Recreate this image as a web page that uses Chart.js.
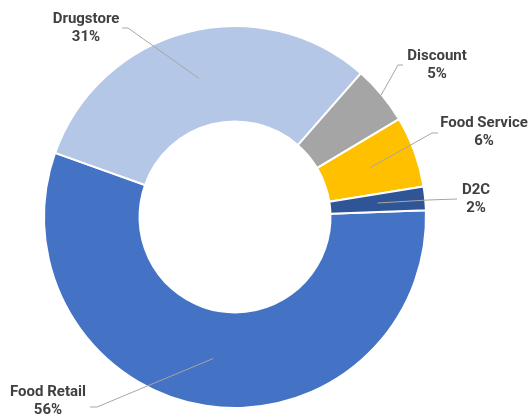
<!DOCTYPE html>
<html>
<head>
<meta charset="utf-8">
<title>Sales by channel</title>
<script src="https://cdn.jsdelivr.net/npm/chart.js@4"></script>
<style>
  html, body { margin: 0; padding: 0; background: #fff; }
  #wrap { width: 530px; height: 417px; }
</style>
</head>
<body>
<div id="wrap">
  <canvas id="myChart" width="530" height="417"></canvas>
</div>
<script>
// channel share, in percent
var channels = ["Food Retail", "Drugstore", "Discount", "Food Service", "D2C"];
var shares = [56, 31, 5, 6, 2];
var colors = ["#4472C4", "#B4C7E7", "#A5A5A5", "#FFC000", "#2F5597"];

// where each callout sits: text centre, elbow of the leader line,
// and how far out along the ring the line ends (0 = hole, 1 = rim)
var callouts = [
  { x: 48,  y: 392, elbow: [90, 407],  knee: [97, 407],  reach: 0.5 },
  { x: 86,  y: 19,  elbow: [122, 28],  knee: [128, 28],  reach: 0.5 },
  { x: 437, y: 56,  elbow: [403, 65],  knee: [398, 65],  reach: 1.0 },
  { x: 484, y: 123, elbow: [438, 133], knee: [432, 133], reach: 0.5 },
  { x: 476, y: 190, elbow: [457, 199], knee: [428, 200], reach: 0.5 }
];

var calloutPlugin = {
  id: "callouts",
  afterDatasetsDraw: function(chart) {
    var ctx = chart.ctx;
    var arcs = chart.getDatasetMeta(0).data;
    ctx.save();
    arcs.forEach(function(arc, i) {
      var c = callouts[i];
      var p = arc.getProps(["x", "y", "startAngle", "endAngle", "innerRadius", "outerRadius"], true);
      var mid = (p.startAngle + p.endAngle) / 2;
      var r = p.innerRadius + (p.outerRadius - p.innerRadius) * c.reach;
      if (c.reach >= 1) r -= 1;
      var ax = p.x + Math.cos(mid) * r;
      var ay = p.y + Math.sin(mid) * r;

      ctx.strokeStyle = "#A6A6A6";
      ctx.lineWidth = 1;
      ctx.beginPath();
      ctx.moveTo(c.elbow[0], c.elbow[1]);
      ctx.lineTo(c.knee[0], c.knee[1]);
      ctx.lineTo(ax, ay);
      ctx.stroke();

      ctx.fillStyle = "#404040";
      ctx.font = "bold 15px Roboto";
      ctx.textAlign = "center";
      ctx.textBaseline = "middle";
      ctx.fillText(channels[i], c.x, c.y);
      ctx.fillText(shares[i] + "%", c.x, c.y + 18);
    });
    ctx.restore();
  }
};

var chart = new Chart(document.getElementById("myChart").getContext("2d"), {
  type: "doughnut",
  data: {
    labels: channels,
    datasets: [{
      data: shares,
      backgroundColor: colors,
      borderColor: "#ffffff",
      borderWidth: 2
    }]
  },
  options: {
    responsive: false,
    animation: false,
    devicePixelRatio: 1,
    rotation: 88,
    cutout: "50%",
    layout: { padding: { left: 43, right: 103, top: 25, bottom: 8 } },
    plugins: {
      legend: { display: false },
      tooltip: { enabled: false }
    }
  },
  plugins: [calloutPlugin]
});
</script>
</body>
</html>
